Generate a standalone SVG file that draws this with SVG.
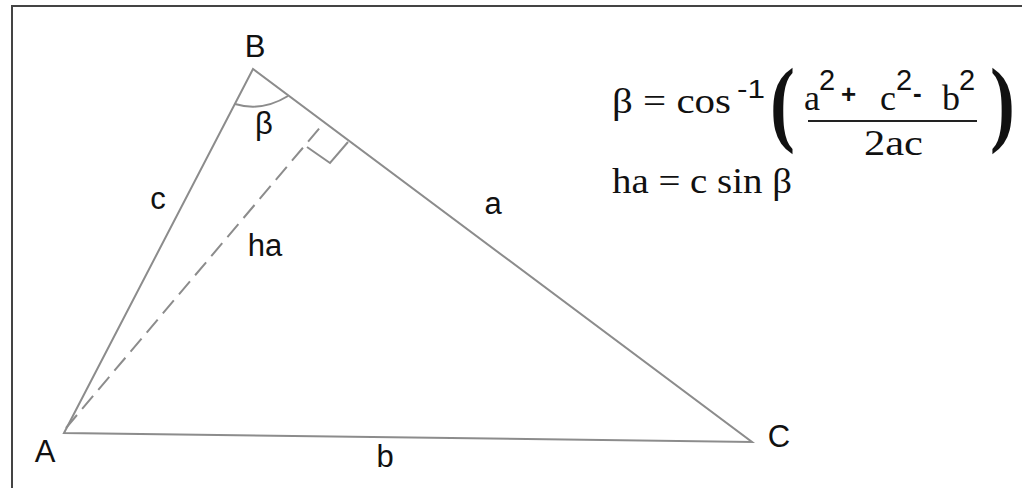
<svg xmlns="http://www.w3.org/2000/svg" width="1022" height="488" viewBox="0 0 1022 488">
<style>
.edge{fill:none;stroke:#8c8c8c;stroke-width:2}
.lbl{font-family:"Liberation Sans",Arial,sans-serif;font-size:31px;fill:#111}
.f{font-family:"Liberation Serif","Times New Roman",serif;font-size:36px;fill:#111}
.p{font-family:"Liberation Serif","Times New Roman",serif;font-size:68px;font-weight:bold;fill:#111}
.s{font-family:"Liberation Sans",Arial,sans-serif;font-size:29px;fill:#111}
</style>
<rect width="1022" height="488" fill="#fff"/>
<path d="M12,488 V6 H1022" fill="none" stroke="#444" stroke-width="2"/>
<g id="connectors">
<path class="edge" d="M64,433 L253,69 L752,442 Z"/>
<path class="edge" d="M66,428 L323,124" stroke-dasharray="17,8"/>
<path class="edge" d="M348,142 L330,163 L307,147"/>
<path class="edge" d="M235,104 Q262,112 288,96"/>
</g>
<g id="node-A"><text class="lbl" x="45" y="462" text-anchor="middle">A</text></g>
<g id="node-B"><text class="lbl" x="255" y="57" text-anchor="middle">B</text><text class="lbl" x="264" y="134" text-anchor="middle">β</text></g>
<g id="node-C"><text class="lbl" x="779" y="447" text-anchor="middle">C</text></g>
<g id="labels">
<text class="lbl" x="158" y="209" text-anchor="middle">c</text>
<text class="lbl" x="493" y="214" text-anchor="middle">a</text>
<text class="lbl" x="265" y="256" text-anchor="middle">ha</text>
<text class="lbl" x="385" y="467" text-anchor="middle">b</text>
</g>
<g id="formula">
<text class="f" x="612" y="113" textLength="119" lengthAdjust="spacingAndGlyphs">β = cos</text>
<text class="s" x="737" y="98" style="font-size:26px" textLength="28" lengthAdjust="spacingAndGlyphs">-1</text>
<text class="p" transform="translate(770,134) scale(1.1,1.4)">(</text>
<text class="p" transform="translate(990,134) scale(1.1,1.4)">)</text>
<text class="f" x="804" y="110">a</text>
<text class="s" x="819" y="90">2</text>
<text class="s" x="841" y="103" style="font-size:26px;font-weight:bold">+</text>
<text class="f" x="880" y="110">c</text>
<text class="s" x="896" y="90">2</text>
<text class="s" x="913" y="102" style="font-size:26px;font-weight:bold">-</text>
<text class="f" x="942" y="110">b</text>
<text class="s" x="959" y="90">2</text>
<line x1="808" y1="121" x2="977" y2="121" stroke="#222" stroke-width="2"/>
<text class="f" x="864" y="155" textLength="59" lengthAdjust="spacingAndGlyphs">2ac</text>
<text class="f" x="612" y="193" textLength="180" lengthAdjust="spacingAndGlyphs">ha = c sin β</text>
</g>
</svg>
